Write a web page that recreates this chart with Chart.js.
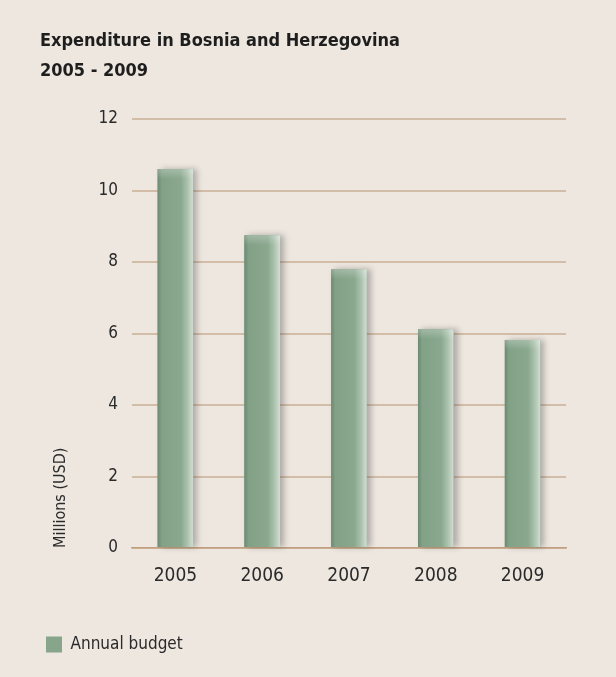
<html>
<head>
<script src="https://cdn.jsdelivr.net/npm/chart.js"></script>
<style>
  body { margin: 0; background: #ede7df; }
  #wrap { width: 616px; height: 677px; }
</style>
</head>
<body>
<div id="wrap"><canvas id="budget"></canvas></div>
<script>
var years = ['2005', '2006', '2007', '2008', '2009'];
var budget = [10.6, 8.75, 7.8, 6.12, 5.82];
var yTicks = [0, 2, 4, 6, 8, 10, 12];

var narrow = '"DejaVu Sans", sans-serif';

// shaded bar look: dark left edge, light right edge, soft shadow
var barShade = {
  id: 'barShade',
  afterDatasetsDraw: function(chart) {
    var ctx = chart.ctx;
    chart.getDatasetMeta(0).data.forEach(function(bar) {
      var l = bar.x - bar.width / 2, t = bar.y, w = bar.width, h = bar.base - bar.y;
      ctx.save();
      ctx.shadowColor = 'rgba(60,60,60,0.35)';
      ctx.shadowBlur = 6;
      ctx.shadowOffsetX = 4;
      ctx.shadowOffsetY = 0;
      var g = ctx.createLinearGradient(l, 0, l + w, 0);
      g.addColorStop(0, '#6a8a72');
      g.addColorStop(0.12, '#82a187');
      g.addColorStop(0.65, '#8aa88e');
      g.addColorStop(0.82, '#a7bfaa');
      g.addColorStop(1, '#d3ded3');
      ctx.fillStyle = g;
      ctx.fillRect(l, t, w, h);
      ctx.restore();
      var cap = ctx.createLinearGradient(0, t, 0, t + 10);
      cap.addColorStop(0, 'rgba(255,255,255,0.25)');
      cap.addColorStop(1, 'rgba(255,255,255,0)');
      ctx.fillStyle = cap;
      ctx.fillRect(l, t, w, 10);
    });
  }
};

new Chart(document.getElementById('budget'), {
  type: 'bar',
  data: {
    labels: years,
    datasets: [{
      label: 'Annual budget',
      data: budget,
      backgroundColor: '#87a58b',
      barPercentage: 0.41,
      categoryPercentage: 1
    }]
  },
  plugins: [barShade],
  options: {
    responsive: true,
    maintainAspectRatio: false,
    animation: false,
    layout: { padding: { left: 40, right: 50, top: 0, bottom: 14 } },
    plugins: {
      title: {
        display: true,
        text: ['Expenditure in Bosnia and Herzegovina', '2005 - 2009'],
        align: 'start',
        color: '#1e1e1e',
        font: { family: narrow, size: 18, weight: 'bold condensed', lineHeight: 1.64 },
        padding: { top: 27, bottom: 33 }
      },
      legend: {
        position: 'bottom',
        align: 'start',
        labels: {
          boxWidth: 16,
          boxHeight: 16,
          padding: 6,
          color: '#2a2a2a',
          font: { family: narrow, size: 17, weight: 'condensed' }
        }
      },
      tooltip: { enabled: false }
    },
    scales: {
      x: {
        grid: { display: false },
        border: { display: true, color: '#c29f7f', width: 1.5 },
        ticks: { color: '#2a2a2a', padding: 9, font: { family: narrow, size: 19, weight: 'condensed' } },
        afterFit: function(s) { s.height = 82; }
      },
      y: {
        min: 0,
        max: 12,
        afterBuildTicks: function(s) { s.ticks = yTicks.map(function(v) { return { value: v }; }); },
        grid: { color: '#d2bda8', lineWidth: 2, drawTicks: false },
        border: { display: false },
        ticks: { color: '#2a2a2a', padding: 14, font: { family: narrow, size: 17, weight: 'condensed' } },
        title: {
          display: true,
          text: 'Millions (USD)',
          align: 'start',
          color: '#2a2a2a',
          font: { family: narrow, size: 16, weight: 'condensed' },
          padding: { top: 11, bottom: 0 }
        },
        afterFit: function(s) { s.width = 92; }
      }
    }
  }
});
</script>
</body>
</html>
